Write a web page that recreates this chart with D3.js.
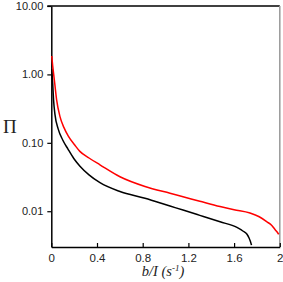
<!DOCTYPE html>
<html>
<head>
<meta charset="utf-8">
<script src="https://cdn.jsdelivr.net/npm/d3@7"></script>
<style>
  html, body { margin: 0; padding: 0; background: #fff; }
  svg { display: block; }
</style>
</head>
<body>
<svg id="chart" width="283" height="282"></svg>
<script>
// ---- data ----
const redX   = [0.004, 0.012, 0.018, 0.03, 0.047, 0.076, 0.11, 0.149, 0.207, 0.25, 0.33, 0.426, 0.601, 0.82, 1.039, 1.153, 1.3, 1.477, 1.6, 1.739, 1.82, 1.888, 1.93, 1.958, 1.975, 1.99];
const redY   = [1.86, 1.35, 1.1, 0.74, 0.42, 0.242, 0.168, 0.125, 0.092, 0.075, 0.06, 0.0477, 0.0319, 0.023, 0.0183, 0.0163, 0.014, 0.0117, 0.0105, 0.0094, 0.0083, 0.007, 0.0062, 0.0054, 0.005, 0.0046];
const blackX = [0.004, 0.012, 0.02, 0.032, 0.06, 0.1, 0.146, 0.2, 0.251, 0.33, 0.426, 0.601, 0.82, 1.039, 1.153, 1.3, 1.477, 1.625, 1.68, 1.713, 1.73, 1.743, 1.752];
const blackY = [1.2, 0.75, 0.42, 0.26, 0.16, 0.11, 0.081, 0.058, 0.0455, 0.034, 0.0261, 0.0194, 0.0155, 0.0119, 0.0104, 0.0087, 0.007, 0.0058, 0.0051, 0.0046, 0.0041, 0.0036, 0.0032];
const xTicks = [0, 0.4, 0.8, 1.2, 1.6, 2];
const xTickLabels = ["0", "0.4", "0.8", "1.2", "1.6", "2"];
const yTicks = [10, 1, 0.1, 0.01];
const yTickLabels = ["10.00", "1.00", "0.10", "0.01"];

// ---- layout ----
const mLeft = 51.3, mRight = 279.8, mTop = 6, mBottom = 247;
const svg = d3.select("#chart");

const x = d3.scaleLinear().domain([0, 2]).range([mLeft, mRight]);
const y = d3.scaleLog().domain([0.003, 10]).range([mBottom, mTop]);

// frame: top (black), right (grey)
svg.append("line").attr("x1", mLeft - 4).attr("x2", mRight).attr("y1", mTop).attr("y2", mTop)
  .attr("stroke", "#000").attr("stroke-width", 1.5);
svg.append("line").attr("x1", mRight).attr("x2", mRight).attr("y1", mTop).attr("y2", mBottom)
  .attr("stroke", "#999").attr("stroke-width", 1.5);

// y axis
const yAxis = d3.axisLeft(y).tickValues(yTicks)
  .tickFormat((d, i) => yTickLabels[i]).tickSizeInner(4).tickSizeOuter(0).tickPadding(4);
const gy = svg.append("g").attr("transform", `translate(${mLeft},0)`).call(yAxis);
gy.select(".domain").attr("stroke", "#000").attr("stroke-width", 1.5);
gy.selectAll(".tick line").attr("stroke", "#000").attr("stroke-width", 1.2);
gy.selectAll(".tick text").attr("font-family", "Liberation Sans, Arial, sans-serif")
  .attr("font-size", 11).attr("fill", "#222");

// x axis
const xAxis = d3.axisBottom(x).tickValues(xTicks)
  .tickFormat((d, i) => xTickLabels[i]).tickSizeInner(-4).tickSizeOuter(0).tickPadding(7);
const gx = svg.append("g").attr("transform", `translate(0,${mBottom})`).call(xAxis);
gx.select(".domain").attr("stroke", "#000").attr("stroke-width", 1.5);
gx.selectAll(".tick line").attr("stroke", "#000").attr("stroke-width", 1.2);
gx.selectAll(".tick text").attr("font-family", "Liberation Sans, Arial, sans-serif")
  .attr("font-size", 11.5).attr("fill", "#222");

// curves
const line = d3.line().x(d => x(d[0])).y(d => y(d[1])).curve(d3.curveMonotoneX);
svg.append("path").datum(blackX.map((v, i) => [v, blackY[i]]))
  .attr("d", line).attr("fill", "none").attr("stroke", "#000").attr("stroke-width", 1.5);
svg.append("path").datum(redX.map((v, i) => [v, redY[i]]))
  .attr("d", line).attr("fill", "none").attr("stroke", "#ff0000").attr("stroke-width", 1.5);

// axis titles
const xt = svg.append("text").attr("x", 163).attr("y", 276).attr("text-anchor", "middle")
  .attr("font-family", "Liberation Serif, Times New Roman, serif").attr("font-style", "italic")
  .attr("font-size", 14.5).attr("fill", "#222");
xt.append("tspan").text("b/I (s");
xt.append("tspan").attr("font-size", 9).attr("dy", -5).text("-1");
xt.append("tspan").attr("dy", 5).text(")");

svg.append("text").attr("x", 3).attr("y", 133)
  .attr("font-family", "Liberation Serif, Times New Roman, serif")
  .attr("font-size", 19).attr("fill", "#222").text("Π");
</script>
</body>
</html>
